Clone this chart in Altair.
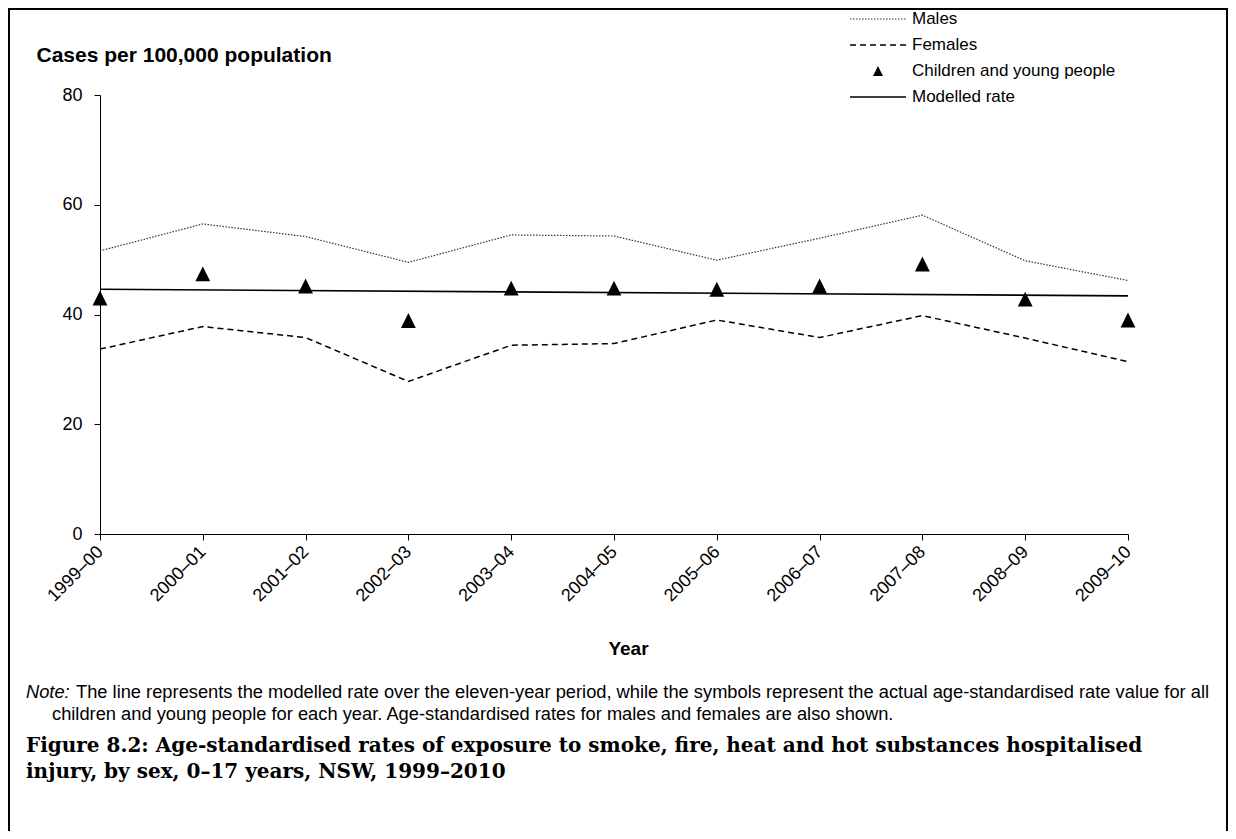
import altair as alt
import pandas as pd

# ---- data ----
years = ["1999–00", "2000–01", "2001–02", "2002–03", "2003–04", "2004–05",
         "2005–06", "2006–07", "2007–08", "2008–09", "2009–10"]
males = [51.6, 56.5, 54.2, 49.5, 54.5, 54.3, 49.9, 53.9, 58.1, 49.8, 46.2]
females = [33.7, 37.8, 35.8, 27.8, 34.4, 34.7, 39.0, 35.8, 39.8, 35.7, 31.4]
children = [43.0, 47.4, 45.2, 38.9, 44.8, 44.8, 44.6, 45.2, 49.2, 42.8, 39.0]
modelled_years = ["1999–00", "2009–10"]
modelled = [44.6, 43.4]
y_ticks = [0, 20, 40, 60, 80]
legend_labels = ["Males", "Females", "Children and young people", "Modelled rate"]
note_lead = "Note:"
note_lines = [
    "The line represents the modelled rate over the eleven-year period, while the symbols represent the actual age-standardised rate value for all",
    "children and young people for each year. Age-standardised rates for males and females are also shown.",
]
caption_lines = [
    "Figure 8.2: Age-standardised rates of exposure to smoke, fire, heat and hot substances hospitalised",
    "injury, by sex, 0–17 years, NSW, 1999–2010",
]

W, H = 1028, 439
FONT = "Liberation Sans"
TRI = "M-1,1L1,1L0,-1Z"

df_m = pd.DataFrame({"year": years, "value": males})
df_f = pd.DataFrame({"year": years, "value": females})
df_c = pd.DataFrame({"year": years, "value": children})
df_mod = pd.DataFrame({"year": modelled_years, "value": modelled})

x_enc = alt.X(
    "year:O",
    sort=years,
    scale=alt.Scale(type="point", domain=years, padding=0),
    axis=alt.Axis(
        title="Year", labelAngle=-45, labelAlign="right", labelBaseline="middle",
        labelFontSize=18, labelPadding=9, tickSize=6,
        titleFontSize=19, titleFontWeight="bold", titleX=528, titleY=114,
        titleAlign="center", titleBaseline="middle",
    ),
)
y_enc = alt.Y(
    "value:Q",
    scale=alt.Scale(domain=[0, 80], nice=False, zero=True),
    axis=alt.Axis(
        values=y_ticks, title="Cases per 100,000 population", titleAngle=0,
        titleX=-64, titleY=-40, titleAlign="left", titleBaseline="middle",
        titleFontSize=21, titleFontWeight="bold", labelFontSize=18,
        labelPadding=12, tickSize=6, grid=False,
    ),
)

males_line = alt.Chart(df_m).mark_line(color="#333333", strokeWidth=1.2, strokeDash=[1.5, 1.5]).encode(x=x_enc, y=y_enc)
females_line = alt.Chart(df_f).mark_line(color="black", strokeWidth=1.5, strokeDash=[6, 4]).encode(x=x_enc, y=y_enc)
modelled_line = alt.Chart(df_mod).mark_line(color="black", strokeWidth=1.6).encode(x=x_enc, y=y_enc)
children_pts = alt.Chart(df_c).mark_point(shape=TRI, filled=True, size=220, color="black", opacity=1).encode(x=x_enc, y=y_enc)

one = pd.DataFrame({"a": [0]})

# frame around the figure (decoration, pixels relative to the plot area)
border = alt.Chart(one).mark_rect(fill="white", fillOpacity=0, stroke="black", strokeWidth=2).encode(
    x=alt.value(-91), x2=alt.value(1127), y=alt.value(-86), y2=alt.value(1000))

# legend (decoration, placed in pixels relative to the plot area)
LX0, LX1, LTX = 750, 806, 812
rows = [-76, -50, -24, 2]
leg_m = alt.Chart(one).mark_rule(color="#333333", strokeWidth=1.2, strokeDash=[1.5, 1.5]).encode(
    x=alt.value(LX0), x2=alt.value(LX1), y=alt.value(rows[0]))
leg_f = alt.Chart(one).mark_rule(color="black", strokeWidth=1.5, strokeDash=[6, 4]).encode(
    x=alt.value(LX0), x2=alt.value(LX1), y=alt.value(rows[1]))
leg_c = alt.Chart(one).mark_point(shape=TRI, filled=True, size=100, color="black", opacity=1).encode(
    x=alt.value(778), y=alt.value(rows[2]))
leg_mod = alt.Chart(one).mark_rule(color="black", strokeWidth=1.6).encode(
    x=alt.value(LX0), x2=alt.value(LX1), y=alt.value(rows[3]))
leg_texts = [
    alt.Chart(one).mark_text(align="left", baseline="middle", fontSize=17, font=FONT, color="black").encode(
        x=alt.value(LTX), y=alt.value(r), text=alt.value(t))
    for r, t in zip(rows, legend_labels)
]

NOTE_FS = 18.3
note_a = alt.Chart(one).mark_text(align="left", baseline="middle", fontSize=NOTE_FS, font=FONT, fontStyle="italic", color="black").encode(
    x=alt.value(-74), y=alt.value(598), text=alt.value(note_lead))
note_b = alt.Chart(one).mark_text(align="left", baseline="middle", fontSize=NOTE_FS, font=FONT, color="black").encode(
    x=alt.value(-24), y=alt.value(598), text=alt.value(note_lines[0]))
note_c = alt.Chart(one).mark_text(align="left", baseline="middle", fontSize=NOTE_FS, font=FONT, color="black").encode(
    x=alt.value(-48), y=alt.value(620), text=alt.value(note_lines[1]))
CAP_FS = 20
cap_a = alt.Chart(one).mark_text(align="left", baseline="middle", fontSize=CAP_FS, font="DejaVu Serif", fontWeight="bold", color="black").encode(
    x=alt.value(-74), y=alt.value(651), text=alt.value(caption_lines[0]))
cap_b = alt.Chart(one).mark_text(align="left", baseline="middle", fontSize=CAP_FS, font="DejaVu Serif", fontWeight="bold", color="black").encode(
    x=alt.value(-74), y=alt.value(677), text=alt.value(caption_lines[1]))

chart = alt.layer(
    border, females_line, males_line, modelled_line, children_pts,
    leg_m, leg_f, leg_c, leg_mod, *leg_texts,
    note_a, note_b, note_c, cap_a, cap_b,
).properties(
    width=W, height=H,
    padding={"left": 92, "top": 87, "right": 100, "bottom": 297},
    autosize=alt.AutoSizeParams(type="none"),
).configure(
    font=FONT, background="white",
).configure_view(
    stroke=None,
).configure_axis(
    domainColor="black", tickColor="black", labelColor="black", titleColor="black",
    labelFont=FONT, titleFont=FONT, domainWidth=1, tickWidth=1,
)

chart.save("out.html", embed_options={"renderer": "svg", "actions": False})
